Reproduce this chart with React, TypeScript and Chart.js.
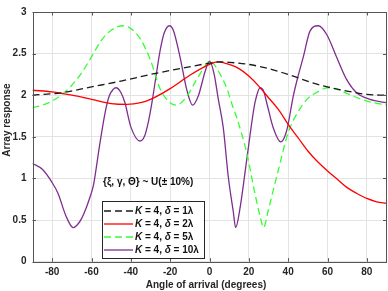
import React, { useEffect, useRef } from "react";
import { Chart, registerables } from "chart.js";

Chart.register(...registerables);

// Angle of arrival (degrees) and array response for each series
const blackAngles = [-90, -75, -60, -45, -30, -15, 0, 5, 10, 20, 30, 40, 55, 70, 80, 90];
const blackValues = [2.0, 2.03, 2.1, 2.17, 2.25, 2.32, 2.385, 2.4, 2.395, 2.37, 2.32, 2.25, 2.13, 2.05, 2.01, 2.0];

const redAngles = [-90, -80, -70, -60, -50, -42, -35, -30, -20, -10, 0, 4, 10, 15, 20, 25, 30, 35, 40, 45, 50, 55, 60, 65, 70, 75, 80, 85, 90];
const redValues = [2.06, 2.04, 2.0, 1.95, 1.9, 1.89, 1.91, 1.95, 2.08, 2.24, 2.37, 2.4, 2.37, 2.32, 2.23, 2.11, 1.97, 1.83, 1.65, 1.49, 1.33, 1.2, 1.09, 0.99, 0.89, 0.82, 0.76, 0.72, 0.7];

const greenAngles = [-90, -85, -80, -75, -70, -65, -60, -55, -50, -44, -40, -35, -30, -25, -20, -17, -12, -7, -2, 0, 2, 5, 9, 12, 14, 19, 23, 26, 27.5, 30, 35, 40, 45, 50, 55, 60, 65, 70, 80, 90];
const greenValues = [1.85, 1.88, 1.93, 2.01, 2.12, 2.27, 2.46, 2.66, 2.78, 2.835, 2.8, 2.67, 2.42, 2.07, 1.91, 1.88, 1.97, 2.17, 2.36, 2.41, 2.38, 2.27, 2.07, 1.85, 1.72, 1.3, 0.83, 0.52, 0.41, 0.63, 1.1, 1.55, 1.8, 1.96, 2.04, 2.09, 2.07, 2.02, 1.93, 1.88];

const purpleAngles = [-90, -85, -80, -77, -73, -69.3, -66, -64, -61, -59, -56, -53, -51, -49, -47.5, -45, -43, -40, -35.3, -33, -31, -29, -27, -25, -23, -20.4, -18.4, -15, -11.6, -8.6, -5.7, -2.3, 0, 2.3, 4.5, 7, 9.5, 12.1, 13.3, 15.5, 18.9, 22.3, 23.5, 25.7, 27.5, 29.1, 32.4, 36.2, 39.2, 42.6, 44.5, 47.7, 51.1, 55.3, 59.6, 64.6, 69.7, 74.8, 81.6, 90];
const purpleValues = [1.18, 1.11, 0.95, 0.82, 0.55, 0.41, 0.48, 0.57, 0.76, 0.92, 1.38, 1.8, 1.99, 2.07, 2.09, 2.03, 1.91, 1.62, 1.45, 1.51, 1.69, 1.95, 2.26, 2.55, 2.75, 2.835, 2.78, 2.46, 2.07, 1.88, 1.99, 2.28, 2.41, 2.26, 1.95, 1.61, 1.03, 0.6, 0.41, 0.64, 1.22, 1.8, 1.95, 2.09, 2.05, 1.91, 1.61, 1.44, 1.57, 1.99, 2.18, 2.46, 2.77, 2.835, 2.73, 2.46, 2.19, 2.03, 1.95, 1.91];

const xTickValues = [-80, -60, -40, -20, 0, 20, 40, 60, 80];
const yTickValues = [0, 0.5, 1, 1.5, 2, 2.5, 3];

const seriesLabels = ["K = 4, δ = 1λ", "K = 4, δ = 2λ", "K = 4, δ = 5λ", "K = 4, δ = 10λ"];
const deltaLabels = ["1λ", "2λ", "5λ", "10λ"];
const xTitle = "Angle of arrival (degrees)";
const yTitle = "Array response";
const noteText = "{ξ, γ, Θ} ~ U(± 10%)";

const colors = ["#1a1a1a", "#ff0000", "#33ff33", "#7e2f8e"];
const dashes = [[7, 4], [], [7, 4], []];

const toPoints = (a: number[], v: number[]) => a.map((x, i) => ({ x, y: v[i] }));

const FONT = "'Liberation Sans', Arial, sans-serif";

const overlayPlugin = {
  id: "overlay",
  afterDraw(chart: any) {
    const { ctx, chartArea: ca, scales } = chart;
    const xs = scales.x;
    const ys = scales.y;
    ctx.save();
    // box
    ctx.strokeStyle = "#555555";
    ctx.lineWidth = 1;
    ctx.strokeRect(Math.round(ca.left) + 0.5, Math.round(ca.top) + 0.5, Math.round(ca.right - ca.left) - 1, Math.round(ca.bottom - ca.top));
    // inward ticks
    const tl = 3.5;
    ctx.beginPath();
    xs.ticks.forEach((t: any) => {
      const px = Math.round(xs.getPixelForValue(t.value)) + 0.5;
      ctx.moveTo(px, ca.bottom);
      ctx.lineTo(px, ca.bottom - tl);
      ctx.moveTo(px, ca.top);
      ctx.lineTo(px, ca.top + tl);
    });
    ys.ticks.forEach((t: any) => {
      const py = Math.round(ys.getPixelForValue(t.value)) + 0.5;
      ctx.moveTo(ca.left, py);
      ctx.lineTo(ca.left + tl, py);
      ctx.moveTo(ca.right, py);
      ctx.lineTo(ca.right - tl, py);
    });
    ctx.stroke();

    // axis titles
    ctx.fillStyle = "#262626";
    ctx.font = `bold 10px ${FONT}`;
    ctx.textAlign = "center";
    ctx.textBaseline = "middle";
    ctx.fillText(xTitle, 206, 285);
    ctx.save();
    ctx.translate(7, 120);
    ctx.rotate(-Math.PI / 2);
    ctx.fillText(yTitle, 0, 0);
    ctx.restore();

    // note text
    ctx.textAlign = "left";
    ctx.fillStyle = "#111111";
    ctx.fillText(noteText, 103, 182.5);

    // legend
    const lx = 102.5, ly = 201.5, lw = 102, lh = 57;
    ctx.fillStyle = "#ffffff";
    ctx.fillRect(lx, ly, lw, lh);
    ctx.strokeStyle = "#262626";
    ctx.lineWidth = 1;
    ctx.strokeRect(lx, ly, lw, lh);
    const rowY = [211, 224, 237, 250];
    seriesLabels.forEach((_lbl, i) => {
      const y = rowY[i];
      ctx.save();
      ctx.strokeStyle = colors[i];
      ctx.lineWidth = 1.3;
      ctx.setLineDash(dashes[i]);
      ctx.beginPath();
      ctx.moveTo(104, y);
      ctx.lineTo(133, y);
      ctx.stroke();
      ctx.restore();
      let x = 135;
      ctx.fillStyle = "#111111";
      const parts: [string, boolean][] = [["K", true], [" = 4, ", false], ["δ", true], [" = " + deltaLabels[i], false]];
      parts.forEach(([s, it]) => {
        ctx.font = `${it ? "italic " : ""}bold 10px ${FONT}`;
        ctx.fillText(s, x, y);
        x += ctx.measureText(s).width;
      });
    });
    ctx.restore();
  },
};

export default function App() {
  const ref = useRef<HTMLCanvasElement | null>(null);
  useEffect(() => {
    document.body.style.margin = "0";
    const canvas = ref.current!;
    const chart = new Chart(canvas, {
      type: "line",
      data: {
        datasets: [
          { label: seriesLabels[0], data: toPoints(blackAngles, blackValues) },
          { label: seriesLabels[1], data: toPoints(redAngles, redValues) },
          { label: seriesLabels[2], data: toPoints(greenAngles, greenValues) },
          { label: seriesLabels[3], data: toPoints(purpleAngles, purpleValues) },
        ].map((d, i) => ({
          ...d,
          borderColor: colors[i],
          borderWidth: 1.3,
          borderDash: dashes[i],
          pointRadius: 0,
          fill: false,
          cubicInterpolationMode: "monotone" as const,
        })),
      },
      options: {
        responsive: false,
        animation: false,
        layout: { padding: { left: 0, right: 1.5, top: 3, bottom: 0 } },
        plugins: { legend: { display: false }, tooltip: { enabled: false } },
        scales: {
          x: {
            type: "linear",
            min: -90,
            max: 90,
            afterBuildTicks: (s: any) => {
              s.ticks = xTickValues.map((v) => ({ value: v }));
            },
            afterFit: (s: any) => {
              s.height = 29.3;
            },
            ticks: {
              padding: 5,
              color: "#262626",
              font: { family: FONT, size: 10, weight: "bold" },
              callback: (v: any) => String(v),
            },
            grid: { color: "#e3e3e3", drawTicks: false },
            border: { display: false },
          },
          y: {
            min: 0,
            max: 3,
            afterBuildTicks: (s: any) => {
              s.ticks = yTickValues.map((v) => ({ value: v }));
            },
            afterFit: (s: any) => {
              s.width = 32.5;
            },
            ticks: {
              padding: 6,
              color: "#262626",
              font: { family: FONT, size: 10, weight: "bold" },
              callback: (v: any) => String(v),
            },
            grid: { color: "#e3e3e3", drawTicks: false },
            border: { display: false },
          },
        },
      },
      plugins: [overlayPlugin],
    });
    return () => chart.destroy();
  }, []);
  return (
    <div style={{ position: "absolute", left: 0, top: 0, width: 388, height: 291 }}>
      <canvas ref={ref} width={388} height={291} />
    </div>
  );
}
